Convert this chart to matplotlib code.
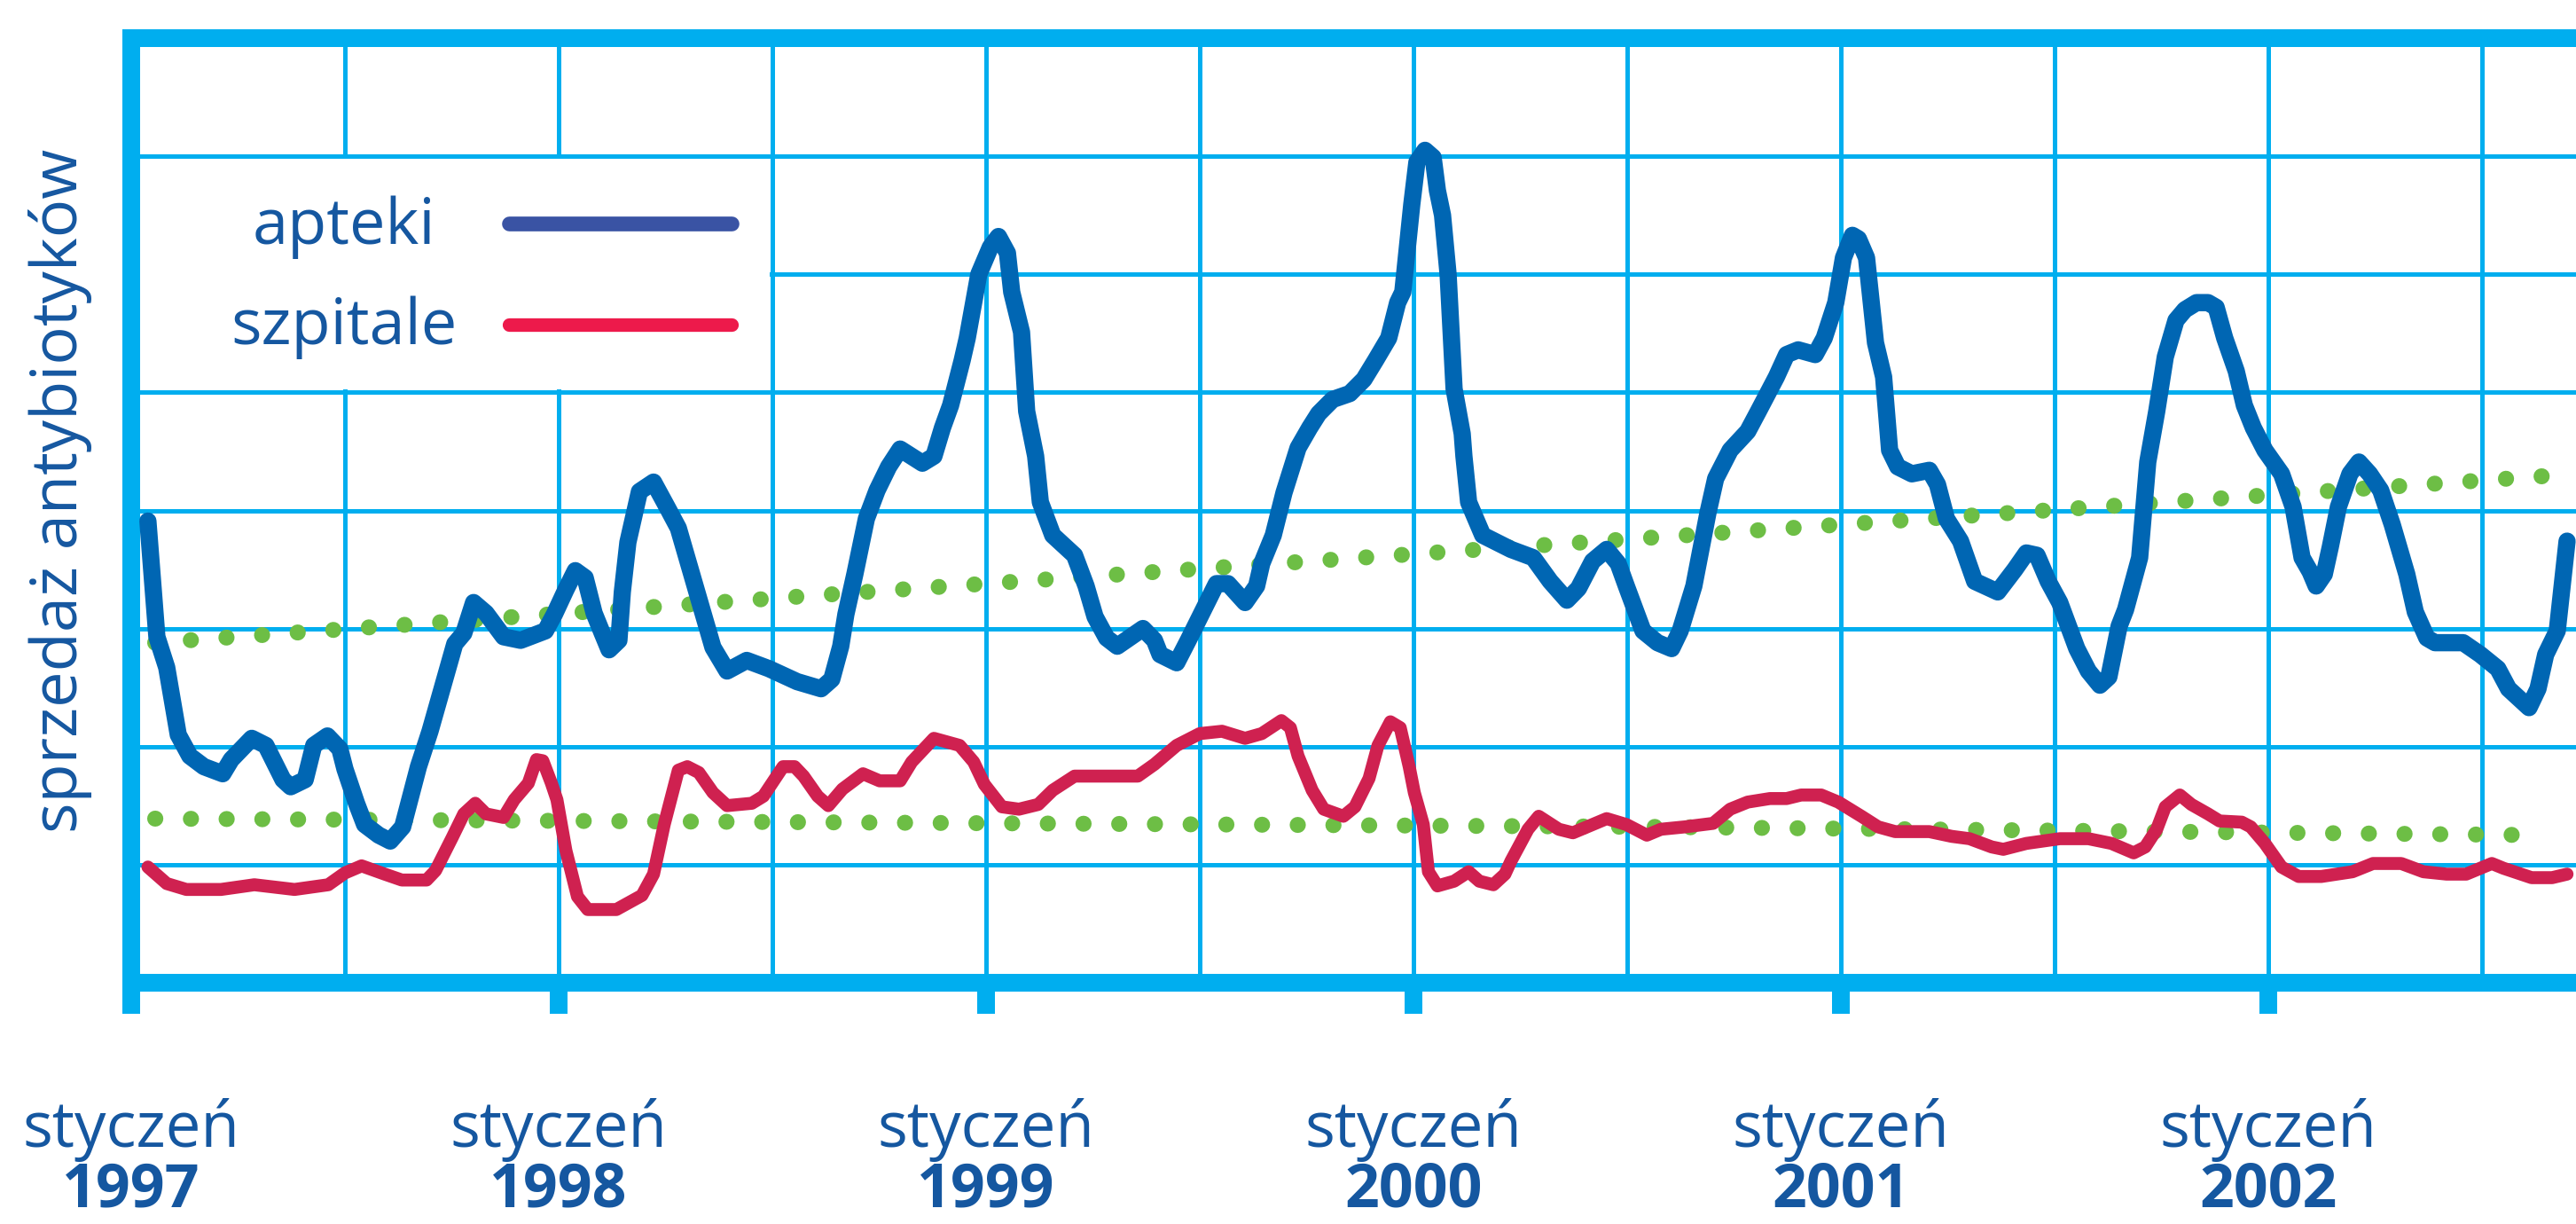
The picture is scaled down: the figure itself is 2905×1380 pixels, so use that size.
import matplotlib.pyplot as plt
from matplotlib.patches import Rectangle

plt.rcParams['font.family'] = ['Open Sans', 'DejaVu Sans']

cyan = '#00AEEF'
text_col = '#1557A0'
blue = '#0066B3'
red = '#CF2150'
green = '#6DBE45'

years = [1997, 1998, 1999, 2000, 2001, 2002]
half_years = [1997.5, 1998.5, 1999.5, 2000.5, 2001.5, 2002.5]
month_label = 'styczeń'

# sprzedaż w aptekach (odczyt z wykresu, skala 0-80)
apteki_t = [1997.039, 1997.060, 1997.083, 1997.110, 1997.137, 1997.170, 1997.214, 1997.234, 1997.282, 1997.315,
            1997.355, 1997.373, 1997.407, 1997.427, 1997.459, 1997.488, 1997.500, 1997.527, 1997.546, 1997.579,
            1997.606, 1997.635, 1997.672, 1997.699, 1997.732, 1997.757, 1997.778, 1997.801, 1997.830, 1997.871,
            1997.911, 1997.969, 1997.990, 1998.017, 1998.039, 1998.062, 1998.083, 1998.102, 1998.118, 1998.141,
            1998.149, 1998.162, 1998.189, 1998.222, 1998.255, 1998.280, 1998.328, 1998.361, 1998.394, 1998.440,
            1998.492, 1998.558, 1998.614, 1998.639, 1998.660, 1998.672, 1998.693, 1998.720, 1998.745, 1998.772,
            1998.799, 1998.851, 1998.878, 1998.898, 1998.917, 1998.944, 1998.956, 1998.983, 1999.010, 1999.029,
            1999.050, 1999.060, 1999.083, 1999.095, 1999.116, 1999.127, 1999.156, 1999.207, 1999.234, 1999.255,
            1999.282, 1999.307, 1999.367, 1999.394, 1999.407, 1999.446, 1999.473, 1999.539, 1999.566, 1999.606,
            1999.633, 1999.645, 1999.672, 1999.697, 1999.730, 1999.757, 1999.778, 1999.811, 1999.851, 1999.884,
            1999.911, 1999.942, 1999.963, 1999.975, 1999.996, 2000.008, 2000.027, 2000.046, 2000.056, 2000.068,
            2000.081, 2000.095, 2000.114, 2000.118, 2000.129, 2000.162, 2000.228, 2000.280, 2000.320, 2000.359,
            2000.386, 2000.419, 2000.452, 2000.479, 2000.498, 2000.537, 2000.571, 2000.604, 2000.624, 2000.656,
            2000.689, 2000.707, 2000.741, 2000.782, 2000.807, 2000.849, 2000.873, 2000.900, 2000.940, 2000.961,
            2000.988, 2001.006, 2001.027, 2001.041, 2001.060, 2001.081, 2001.100, 2001.114, 2001.133, 2001.166,
            2001.207, 2001.226, 2001.247, 2001.280, 2001.313, 2001.367, 2001.407, 2001.434, 2001.459, 2001.485,
            2001.512, 2001.552, 2001.579, 2001.606, 2001.627, 2001.651, 2001.666, 2001.699, 2001.718, 2001.739,
            2001.759, 2001.784, 2001.805, 2001.832, 2001.859, 2001.878, 2001.898, 2001.925, 2001.944, 2001.965,
            2001.992, 2002.031, 2002.058, 2002.079, 2002.098, 2002.112, 2002.131, 2002.145, 2002.164, 2002.191,
            2002.212, 2002.237, 2002.263, 2002.290, 2002.324, 2002.344, 2002.371, 2002.390, 2002.456, 2002.496,
            2002.537, 2002.562, 2002.589, 2002.610, 2002.631, 2002.649, 2002.676, 2002.699]
apteki_v = [39.1, 29.3, 26.7, 21.0, 19.2, 18.3, 17.7, 18.9, 20.7, 20.1,
            17.2, 16.6, 17.2, 20.1, 20.9, 19.8, 18.1, 15.2, 13.4, 12.5,
            12.0, 13.2, 18.3, 21.3, 25.5, 28.7, 29.6, 32.2, 31.3, 29.3,
            29.0, 29.8, 31.2, 33.3, 34.9, 34.3, 31.3, 29.6, 28.2, 29.0,
            33.1, 37.3, 41.6, 42.4, 40.2, 38.5, 32.5, 28.4, 26.4, 27.3,
            26.6, 25.5, 24.9, 25.7, 28.5, 31.2, 34.6, 39.3, 41.7, 43.7,
            45.2, 44.0, 44.6, 47.0, 48.9, 52.7, 54.6, 60.0, 62.3, 63.2,
            61.8, 58.5, 55.1, 48.4, 44.6, 40.7, 37.9, 36.2, 33.6, 31.0,
            29.2, 28.5, 30.0, 29.0, 27.8, 27.1, 29.0, 33.8, 33.8, 32.2,
            33.6, 35.5, 37.9, 41.5, 45.3, 47.0, 48.2, 49.4, 49.9, 51.1,
            52.7, 54.6, 57.6, 58.5, 65.9, 69.5, 70.5, 69.9, 67.1, 65.0,
            60.0, 50.3, 46.5, 44.6, 40.7, 37.9, 36.7, 36.0, 34.0, 32.4,
            33.4, 35.7, 36.7, 35.5, 33.6, 29.8, 28.8, 28.3, 29.8, 33.6,
            39.8, 42.7, 45.1, 46.7, 48.4, 51.3, 53.2, 53.6, 53.2, 54.6,
            57.6, 61.4, 63.3, 63.0, 61.4, 54.2, 51.3, 45.1, 43.7, 43.1,
            43.4, 42.2, 39.3, 37.4, 34.0, 33.1, 35.0, 36.4, 36.2, 34.0,
            32.2, 28.3, 26.4, 25.2, 25.9, 30.2, 31.6, 36.0, 44.1, 48.4,
            53.0, 56.1, 57.0, 57.6, 57.6, 57.2, 54.6, 51.8, 48.9, 47.0,
            45.1, 43.1, 40.3, 36.0, 34.8, 33.6, 34.6, 36.9, 40.3, 43.1,
            44.1, 43.1, 41.7, 38.8, 34.6, 31.4, 29.2, 28.8, 28.8, 27.8,
            26.6, 24.9, 24.0, 23.3, 24.9, 27.8, 29.8, 37.4]

# sprzedaż w szpitalach
szpitale_t = [1997.039, 1997.083, 1997.129, 1997.210, 1997.288, 1997.382, 1997.461, 1997.500, 1997.539, 1997.593,
              1997.633, 1997.691, 1997.712, 1997.751, 1997.778, 1997.805, 1997.830, 1997.871, 1997.896, 1997.929,
              1997.948, 1997.963, 1997.983, 1997.996, 1998.017, 1998.044, 1998.068, 1998.135, 1998.195, 1998.222,
              1998.247, 1998.280, 1998.301, 1998.328, 1998.361, 1998.394, 1998.452, 1998.479, 1998.525, 1998.552,
              1998.573, 1998.606, 1998.631, 1998.664, 1998.712, 1998.751, 1998.799, 1998.826, 1998.878, 1998.938,
              1998.971, 1998.996, 1999.037, 1999.077, 1999.122, 1999.156, 1999.207, 1999.355, 1999.394, 1999.446,
              1999.500, 1999.552, 1999.606, 1999.645, 1999.691, 1999.712, 1999.730, 1999.763, 1999.790, 1999.836,
              1999.863, 1999.896, 1999.917, 1999.946, 1999.969, 1999.990, 2000.002, 2000.023, 2000.035, 2000.056,
              2000.095, 2000.129, 2000.154, 2000.187, 2000.214, 2000.228, 2000.268, 2000.293, 2000.340, 2000.373,
              2000.452, 2000.498, 2000.546, 2000.579, 2000.635, 2000.701, 2000.741, 2000.782, 2000.834, 2000.873,
              2000.907, 2000.954, 2000.994, 2001.048, 2001.087, 2001.127, 2001.207, 2001.259, 2001.301, 2001.353,
              2001.380, 2001.434, 2001.512, 2001.579, 2001.633, 2001.685, 2001.712, 2001.739, 2001.759, 2001.793,
              2001.820, 2001.859, 2001.886, 2001.938, 2001.959, 2001.992, 2002.031, 2002.071, 2002.124, 2002.197,
              2002.245, 2002.311, 2002.363, 2002.417, 2002.463, 2002.523, 2002.550, 2002.616, 2002.664, 2002.699]
szpitale_v = [9.8, 8.4, 7.9, 7.9, 8.3, 7.9, 8.3, 9.3, 9.9, 9.2,
              8.7, 8.7, 9.5, 12.3, 14.3, 15.2, 14.3, 14.0, 15.5, 16.9,
              18.9, 18.8, 16.9, 15.5, 11.2, 7.3, 6.2, 6.2, 7.4, 9.2,
              13.4, 18.0, 18.3, 17.8, 16.1, 15.0, 15.2, 15.8, 18.3, 18.3,
              17.5, 15.8, 15.0, 16.4, 17.7, 17.1, 17.1, 18.7, 20.7, 20.1,
              18.7, 16.8, 14.9, 14.7, 15.1, 16.3, 17.5, 17.5, 18.5, 20.1,
              21.1, 21.3, 20.7, 21.1, 22.2, 21.6, 19.2, 16.3, 14.7, 14.1,
              14.9, 17.3, 20.1, 22.1, 21.6, 18.3, 16.1, 13.4, 9.4, 8.2,
              8.6, 9.4, 8.6, 8.3, 9.2, 10.3, 13.0, 14.1, 13.0, 12.7,
              13.9, 13.4, 12.5, 13.0, 13.2, 13.5, 14.7, 15.3, 15.6, 15.6,
              15.9, 15.9, 15.3, 14.1, 13.2, 12.8, 12.8, 12.4, 12.2, 11.5,
              11.3, 11.8, 12.2, 12.2, 11.8, 11.0, 11.5, 13.0, 14.9, 15.9,
              15.1, 14.3, 13.7, 13.6, 13.2, 11.8, 9.8, 9.0, 9.0, 9.4,
              10.1, 10.1, 9.4, 9.2, 9.2, 10.1, 9.7, 8.9, 8.9, 9.2]

# linie trendu (kropkowane)
trend_t = [1997.056, 1998.560, 2000.558, 2002.643]
trend_apteki = [28.8, 32.7, 37.7, 42.9]
trend_szpitale = [13.9, 13.6, 13.2, 12.5]

fig = plt.figure(figsize=(29.05, 13.8), dpi=100)
ax = fig.add_axes([148 / 2905, 272 / 1380, 2777 / 2905, 1065 / 1380])
ax.set_xlim(1997, 1997 + 2777 / 482)
ax.set_ylim(0, 80)

ax.set_xticks(years)
ax.set_xticks(half_years, minor=True)
ax.set_yticks(range(10, 80, 10))
ax.set_axisbelow(True)
ax.grid(which='both', axis='x', color=cyan, lw=3.6)
ax.grid(which='major', axis='y', color=cyan, lw=3.6)
ax.tick_params(axis='x', which='major', length=25, width=14.4, color=cyan, labelbottom=False)
ax.tick_params(axis='x', which='minor', length=0)
ax.tick_params(axis='y', length=0, labelleft=False)
for s in ax.spines.values():
    s.set_color(cyan)
    s.set_linewidth(14.4)

# biale pole legendy
ax.add_patch(Rectangle((1997, 50.25), 1.493, 19.5, facecolor='white', edgecolor='none', zorder=1))

ax.plot(trend_t, trend_apteki, color=green, lw=13, ls=(0, (0.01, 2.22)), dash_capstyle='round', zorder=2)
ax.plot(trend_t, trend_szpitale, color=green, lw=13, ls=(0, (0.01, 2.22)), dash_capstyle='round', zorder=2)
ax.plot(szpitale_t, szpitale_v, color=red, lw=10.5, solid_capstyle='round', solid_joinstyle='round', zorder=3)
ax.plot(apteki_t, apteki_v, color=blue, lw=14, solid_capstyle='round', solid_joinstyle='round', zorder=4)

# legenda
ax.text(0.0864, 0.7822, 'apteki', transform=ax.transAxes, ha='center', va='baseline', fontsize=52, color=text_col)
ax.text(0.0864, 0.6761, 'szpitale', transform=ax.transAxes, ha='center', va='baseline', fontsize=52, color=text_col)
ax.plot([0.1534, 0.2438], [0.8038, 0.8038], transform=ax.transAxes, color='#3A53A4', lw=12,
        solid_capstyle='round', zorder=5)
ax.plot([0.1534, 0.2438], [0.6967, 0.6967], transform=ax.transAxes, color='#ED1A4B', lw=11,
        solid_capstyle='round', zorder=5)

# opisy osi
for y in years:
    ax.text(y, -0.1737, month_label, transform=ax.get_xaxis_transform(), ha='center', va='baseline',
            fontsize=51, color=text_col)
    ax.text(y, -0.2375, str(y), transform=ax.get_xaxis_transform(), ha='center', va='baseline',
            fontsize=49, fontweight='bold', color=text_col)

ax.text(-0.02197, 0.5211, 'sprzedaż antybiotyków', transform=ax.transAxes, rotation=90,
        rotation_mode='anchor', ha='center', va='baseline', fontsize=52, color=text_col)

fig.savefig('out.png', dpi=100)
